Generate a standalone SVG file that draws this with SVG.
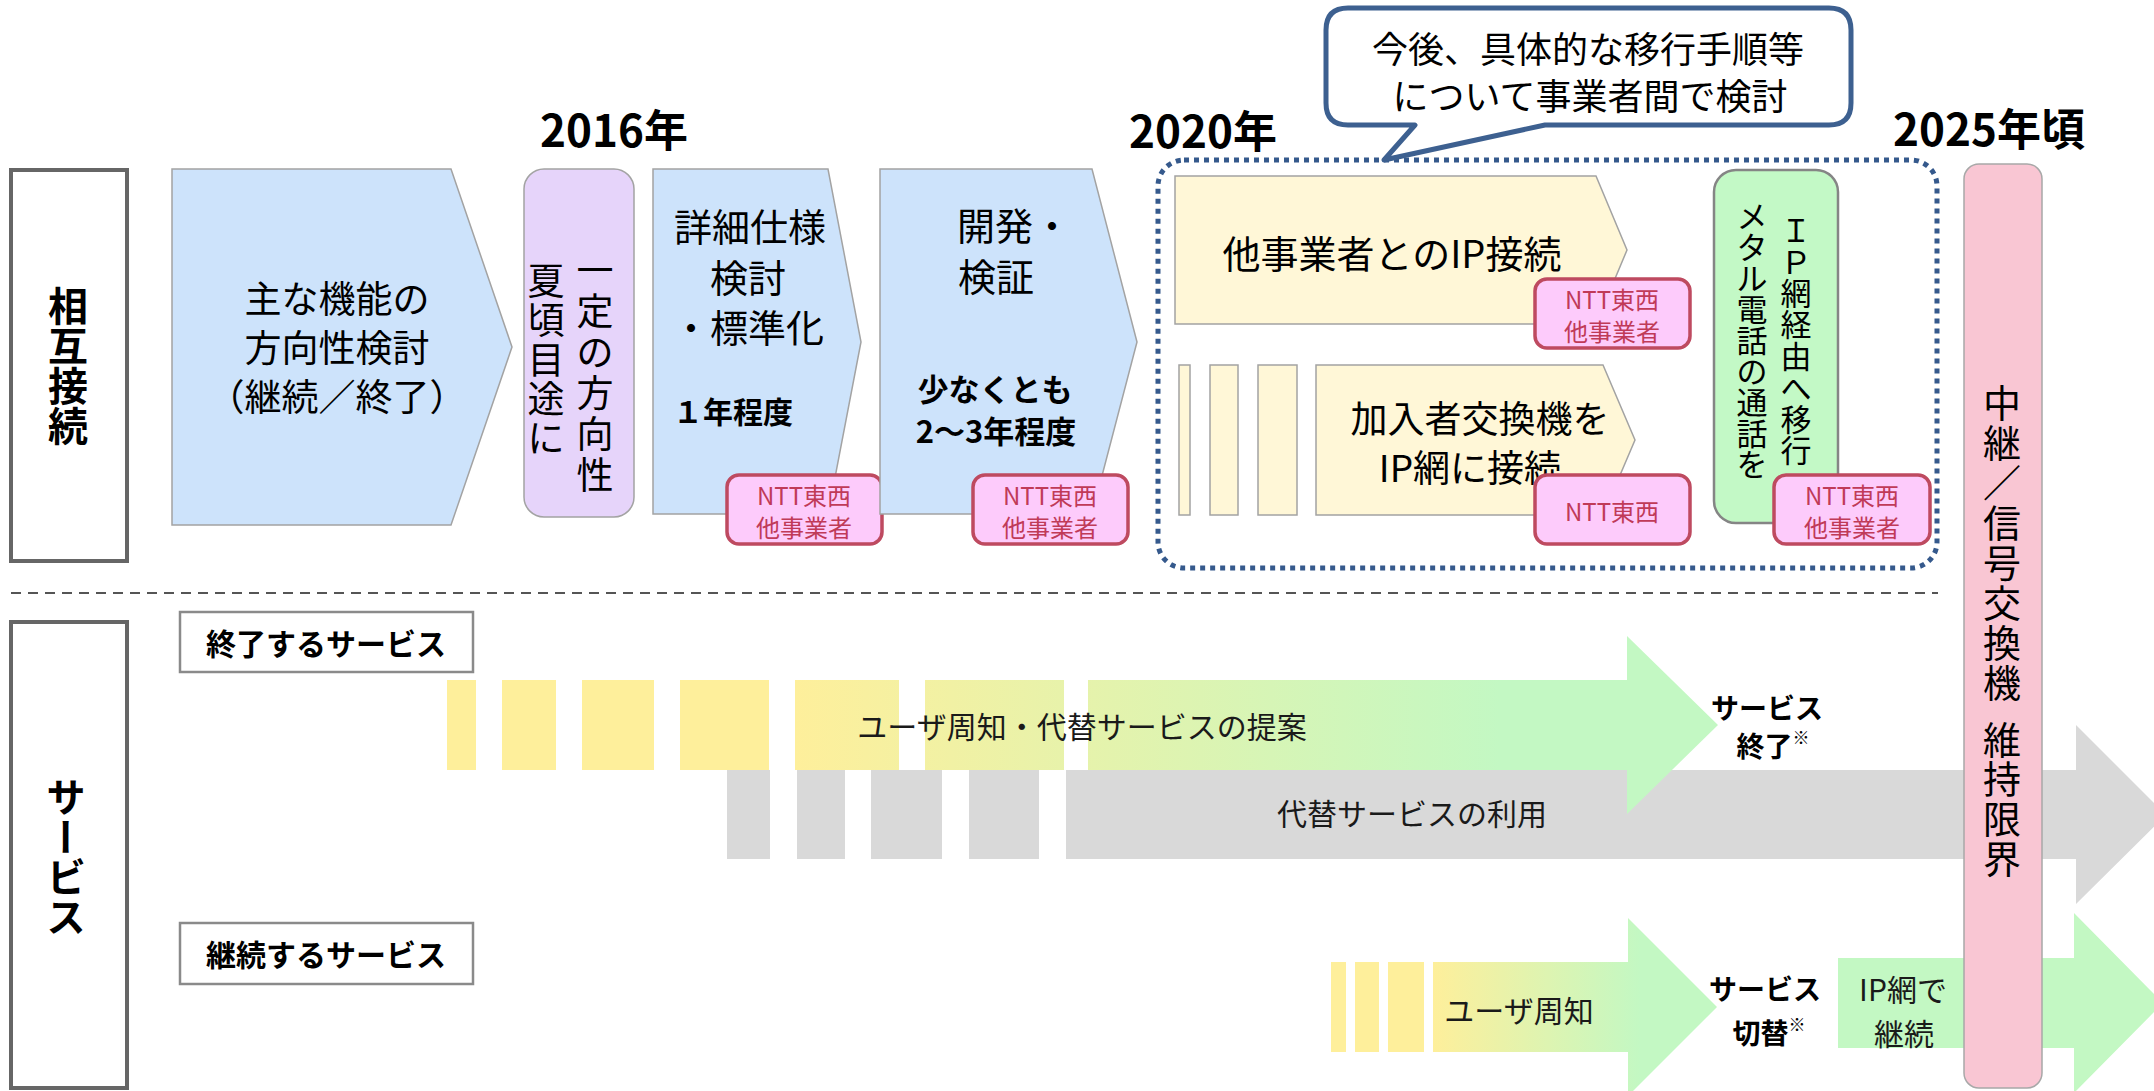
<svg xmlns="http://www.w3.org/2000/svg" width="2154" height="1091" viewBox="0 0 2154 1091">
<style>
text{font-family:"Noto Sans CJK JP","Noto Sans",sans-serif;fill:#000;dominant-baseline:central;text-anchor:middle}
.b{font-weight:bold}
.yr{font-size:44px;font-weight:bold}
.blue{fill:#CDE3FB;stroke:#A3A3A3;stroke-width:1.5}
.cream{fill:#FFF7D7;stroke:#A3A3A3;stroke-width:1.5}
.badge{fill:#FDCBFB;stroke:#BE4A60;stroke-width:3.5}
.bt{font-size:24px;fill:#C03A58}
.cat{fill:#fff;stroke:#666;stroke-width:4}
.lab{fill:#fff;stroke:#8A8A8A;stroke-width:2.5}
.yel{fill:#FEEF9B}
.gry{fill:#D9D9D9}
.grn{fill:#C3F8C3}
.svc{font-size:30px;fill:#1a1a1a}
.vt{font-size:37px}
</style>
<defs>
<linearGradient id="g1" gradientUnits="userSpaceOnUse" x1="795" y1="0" x2="1500" y2="0">
<stop offset="0" stop-color="#FEEF9B"/><stop offset="1" stop-color="#C3F8C3"/>
</linearGradient>
<linearGradient id="g2" gradientUnits="userSpaceOnUse" x1="1433" y1="0" x2="1640" y2="0">
<stop offset="0" stop-color="#FEEF9B"/><stop offset="1" stop-color="#C3F8C3"/>
</linearGradient>
</defs>

<g id="years">
<text class="yr" x="614" y="128">2016年</text>
<text class="yr" x="1203" y="129">2020年</text>
<text class="yr" x="1989" y="127">2025年頃</text>
</g>

<g id="cat-sougo">
<rect class="cat" x="11" y="170" width="116" height="391"/>
<text class="b" style="writing-mode:vertical-rl" x="68" y="366" font-size="40">相互接続</text>
</g>
<g id="cat-service">
<rect class="cat" x="11" y="622" width="116" height="466"/>
<text class="b" style="writing-mode:vertical-rl" x="66" y="857" font-size="40">サービス</text>
</g>

<g id="separator">
<line x1="11" y1="593" x2="1938" y2="593" stroke="#555" stroke-width="2" stroke-dasharray="10 7"/>
</g>

<g id="arrow-houkousei">
<polygon class="blue" points="172,169 451,169 512,347 451,525 172,525"/>
<text font-size="37"><tspan x="337" y="297">主な機能の</tspan><tspan x="337" y="346">方向性検討</tspan><tspan x="337" y="395">（継続／終了）</tspan></text>
</g>

<g id="milestone-natsu">
<rect x="524" y="169" width="110" height="348" rx="20" fill="#E6D4FA" stroke="#A3A3A3" stroke-width="1.5"/>
<text class="vt" x="595 595 595 595 595 595" y="268 309 350 391 432 473">一定の方向性</text>
<text class="vt" x="546 546 546 546 546" y="279 318 358 397 436">夏頃目途に</text>
</g>

<g id="arrow-shousai">
<polygon class="blue" points="653,169 828,169 861,342 828,514 653,514"/>
<text font-size="38"><tspan x="750" y="224">詳細仕様</tspan><tspan x="748" y="274.5">検討</tspan><tspan x="748" y="325">・標準化</tspan></text>
<text class="b" x="733" y="410" font-size="30">１年程度</text>
</g>
<g id="badge-1">
<rect class="badge" x="727" y="475" width="155" height="69" rx="12"/>
<text class="bt"><tspan x="804" y="493.5">NTT東西</tspan><tspan x="804" y="525.5">他事業者</tspan></text>
</g>

<g id="arrow-kaihatsu">
<polygon class="blue" points="880,169 1092,169 1137,342 1092,514 880,514"/>
<text font-size="38"><tspan x="957" y="223" style="text-anchor:start">開発・</tspan><tspan x="996" y="273.5">検証</tspan></text>
<text class="b" font-size="31"><tspan x="995" y="387">少なくとも</tspan><tspan x="996" y="429">2～3年程度</tspan></text>
</g>
<g id="badge-2">
<rect class="badge" x="973" y="475" width="155" height="69" rx="12"/>
<text class="bt"><tspan x="1050" y="493.5">NTT東西</tspan><tspan x="1050" y="525.5">他事業者</tspan></text>
</g>

<g id="region-2020">
<rect x="1158" y="160" width="779" height="408" rx="26" fill="none" stroke="#35598C" stroke-width="5" stroke-dasharray="5 5"/>
</g>

<g id="callout">
<path d="M1348,8 H1829 Q1851,8 1851,30 V103 Q1851,125 1829,125 H1545 L1384,160 L1415,125 H1348 Q1326,125 1326,103 V30 Q1326,8 1348,8 Z" fill="#fff" stroke="#3D6090" stroke-width="5" stroke-linejoin="round"/>
<text font-size="36"><tspan x="1588" y="46.5">今後、具体的な移行手順等</tspan><tspan x="1590" y="94">について事業者間で検討</tspan></text>
</g>

<g id="arrow-ip-setsuzoku">
<polygon class="cream" points="1175,176 1596,176 1627,250 1596,324 1175,324"/>
<text x="1392" y="251" font-size="38">他事業者とのIP接続</text>
</g>
<g id="badge-3">
<rect class="badge" x="1535" y="279" width="155" height="69" rx="12"/>
<text class="bt"><tspan x="1612" y="297.5">NTT東西</tspan><tspan x="1612" y="329.5">他事業者</tspan></text>
</g>

<g id="arrow-kanyusha">
<rect class="cream" x="1179" y="365" width="11" height="150"/>
<rect class="cream" x="1210" y="365" width="28" height="150"/>
<rect class="cream" x="1258" y="365" width="39" height="150"/>
<polygon class="cream" points="1316,365 1603,365 1635,440 1603,515 1316,515"/>
<text font-size="37"><tspan x="1480" y="417">加入者交換機を</tspan><tspan x="1470" y="466">IP網に接続</tspan></text>
</g>
<g id="badge-4">
<rect class="badge" x="1535" y="475" width="155" height="69" rx="12"/>
<text class="bt" x="1612" y="510">NTT東西</text>
</g>

<g id="metal-ikou">
<rect x="1714" y="170" width="124" height="353" rx="22" fill="#C3F9C6" stroke="#858585" stroke-width="2.5"/>
<text x="1796 1796 1796 1796 1796 1796 1796 1796" y="228 260 291 322 354 386 417 448" font-size="31">ＩＰ網経由へ移行</text>
<text x="1752 1752 1752 1752 1752 1752 1752 1752 1752" y="214 245 276 307 338 369 400 431 462" font-size="31">メタル電話の通話を</text>
</g>
<g id="badge-5">
<rect class="badge" x="1774" y="475" width="156" height="69" rx="12"/>
<text class="bt"><tspan x="1852" y="493.5">NTT東西</tspan><tspan x="1852" y="525.5">他事業者</tspan></text>
</g>

<g id="label-shuryo">
<rect class="lab" x="180" y="612" width="293" height="60"/>
<text class="b" x="326" y="642" font-size="30">終了するサービス</text>
</g>
<g id="label-keizoku">
<rect class="lab" x="180" y="923" width="293" height="61"/>
<text class="b" x="326" y="953" font-size="30">継続するサービス</text>
</g>

<g id="row-daitai-riyou">
<rect class="gry" x="727" y="770" width="43" height="89"/>
<rect class="gry" x="797" y="770" width="48" height="89"/>
<rect class="gry" x="871" y="770" width="71" height="89"/>
<rect class="gry" x="969" y="770" width="70" height="89"/>
<polygon class="gry" points="1066,770 2076,770 2076,725 2166,815 2076,904 2076,859 1066,859"/>
<text class="svc" x="1412" y="812">代替サービスの利用</text>
</g>

<g id="row-shuchi-teian">
<rect class="yel" x="447" y="680" width="29" height="90"/>
<rect class="yel" x="502" y="680" width="54" height="90"/>
<rect class="yel" x="582" y="680" width="72" height="90"/>
<rect class="yel" x="680" y="680" width="89" height="90"/>
<rect fill="url(#g1)" x="795" y="680" width="104" height="90"/>
<rect fill="url(#g1)" x="925" y="680" width="139" height="90"/>
<polygon fill="url(#g1)" points="1088,680 1627,680 1627,636 1718,725 1627,814 1627,770 1088,770"/>
<text class="svc" x="1082" y="725">ユーザ周知・代替サービスの提案</text>
</g>
<g id="end-label">
<text class="b" font-size="28"><tspan x="1767" y="707">サービス</tspan><tspan x="1773" y="745">終了</tspan><tspan font-size="17" dy="-9">※</tspan></text>
</g>

<g id="row-keizoku-shuchi">
<rect class="yel" x="1331" y="962" width="15" height="90"/>
<rect class="yel" x="1355" y="962" width="24" height="90"/>
<rect class="yel" x="1388" y="962" width="36" height="90"/>
<polygon fill="url(#g2)" points="1433,962 1628,962 1628,918 1717,1007 1628,1096 1628,1052 1433,1052"/>
<text class="svc" x="1519" y="1009">ユーザ周知</text>
</g>
<g id="switch-label">
<text class="b" font-size="28"><tspan x="1765" y="988">サービス</tspan><tspan x="1769" y="1032">切替</tspan><tspan font-size="17" dy="-9">※</tspan></text>
</g>

<g id="row-ip-keizoku">
<polygon class="grn" points="1838,958 2074,958 2074,913 2163,1003 2074,1093 2074,1048 1838,1048"/>
<text class="svc"><tspan x="1903" y="988">IP網で</tspan><tspan x="1904" y="1032">継続</tspan></text>
</g>

<g id="limit-bar">
<rect x="1964" y="164" width="78" height="924" rx="15" fill="#F9C6D3" stroke="#A8A8A8" stroke-width="1.5"/>
<text x="2002 2002 2002 2002 2002 2002 2002 2002" y="400 440 480 520 560 600 640 680" font-size="38">中継／信号交換機</text>
<text x="2002 2002 2002 2002" y="737 776 816 856" font-size="38">維持限界</text>
</g>
</svg>
